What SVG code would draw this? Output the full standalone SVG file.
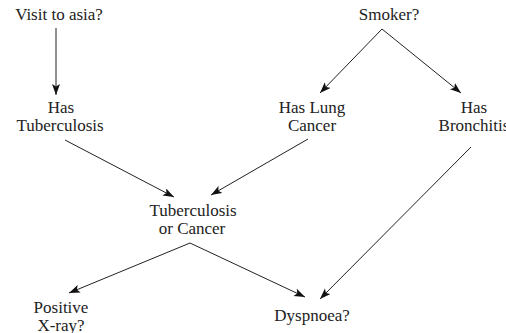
<svg xmlns="http://www.w3.org/2000/svg" width="506" height="333" viewBox="0 0 506 333">
<style>
text{font-family:"Liberation Serif","Times New Roman",serif;font-size:17px;fill:#222;text-anchor:middle}
.e{stroke:#222;stroke-width:1;fill:none;marker-end:url(#ah)}
</style>
<defs>
<marker id="ah" markerUnits="userSpaceOnUse" markerWidth="12" markerHeight="10" refX="11" refY="4" orient="auto">
<path d="M0,0 L11,4 L0,8 L2.5,4 Z" fill="#111"/>
</marker>
</defs>
<rect width="506" height="333" fill="#fff"/>
<g id="edges">
<line class="e" x1="56" y1="28" x2="56" y2="95"/>
<line class="e" x1="382" y1="29" x2="320" y2="93"/>
<line class="e" x1="382" y1="29" x2="461" y2="93"/>
<line class="e" x1="65" y1="140" x2="174" y2="197"/>
<line class="e" x1="308" y1="139" x2="211" y2="195"/>
<line class="e" x1="471" y1="147" x2="320" y2="299"/>
<line class="e" x1="190" y1="243" x2="69" y2="293"/>
<line class="e" x1="190" y1="243" x2="305" y2="297"/>
</g>
<g id="visit"><text x="59" y="20">Visit to asia?</text></g>
<g id="smoker"><text x="389" y="20">Smoker?</text></g>
<g id="tub"><text x="61" y="113">Has</text><text x="60" y="131">Tuberculosis</text></g>
<g id="lung"><text x="312" y="113">Has Lung</text><text x="312" y="131">Cancer</text></g>
<g id="bronc"><text x="474" y="113">Has</text><text x="474" y="131">Bronchitis</text></g>
<g id="either"><text x="193" y="216">Tuberculosis</text><text x="192" y="234">or Cancer</text></g>
<g id="xray"><text x="61" y="313">Positive</text><text x="61" y="331">X-ray?</text></g>
<g id="dysp"><text x="312" y="321">Dyspnoea?</text></g>
</svg>
